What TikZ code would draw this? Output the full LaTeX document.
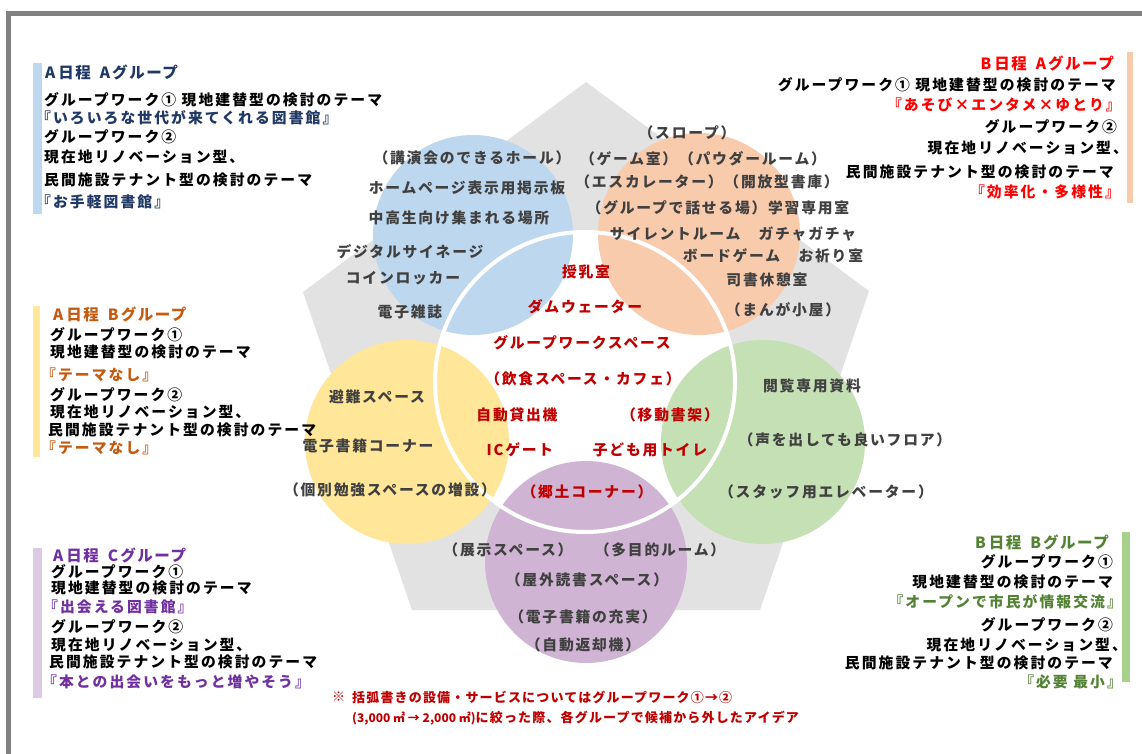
\documentclass[tikz,border=0pt]{standalone}
\usepackage{fontspec}
\setmainfont{Noto Sans CJK JP}
\newfontfamily\jpA{Noto Sans CJK JP}[LetterSpace=14]
\newfontfamily\jpB{Noto Sans CJK JP}
\newfontfamily\jpT{Noto Sans CJK JP}[LetterSpace=10]
\newfontfamily\jpC{Noto Sans CJK JP}[LetterSpace=12]
\newfontfamily\jpN{Noto Sans CJK JP}[LetterSpace=9]
\definecolor{cframe}{HTML}{808080}
\definecolor{cgray}{HTML}{E2E2E2}
\definecolor{cblue}{HTML}{BDD7EE}
\definecolor{corange}{HTML}{F8CBAD}
\definecolor{cyellow}{HTML}{FFE699}
\definecolor{cgreen}{HTML}{C5E0B4}
\definecolor{cpurple}{HTML}{D0B4D4}
\definecolor{barpurple}{HTML}{DCCAE2}
\definecolor{bargreen}{HTML}{A9D18E}
\definecolor{cdark}{HTML}{404040}
\definecolor{cred}{HTML}{C00000}
\definecolor{tnavy}{HTML}{203864}
\definecolor{torange}{HTML}{C55A11}
\definecolor{tpurple}{HTML}{7030A0}
\definecolor{tred}{HTML}{FF0000}
\definecolor{tgreen}{HTML}{548235}
\newcommand{\grtitle}[2]{#1\hspace{3pt}日程\hspace{9pt}#2\hspace{2pt}グループ}
\tikzset{
  bl/.style={anchor=west, inner sep=0pt, font=\jpA\bfseries\fontsize{14.8}{16}\selectfont, text=black},
  br/.style={bl, anchor=east},
  tl/.style={anchor=west, inner sep=0pt, font=\jpT\bfseries\fontsize{15.5}{17}\selectfont},
  tr/.style={tl, anchor=east},
  ct/.style={anchor=center, inner sep=0pt, font=\jpC\bfseries\fontsize{14.8}{16}\selectfont, text=cdark},
  cr/.style={ct, text=cred},
  nt/.style={anchor=west, inner sep=0pt, font=\jpN\bfseries\fontsize{13}{15}\selectfont, text=cred}
}
\begin{document}
\begin{tikzpicture}[x=1pt,y=-1pt]
\useasboundingbox (0,0) rectangle (1142,754);
\fill[white] (0,0) rectangle (1142,754);
% frame
\fill[cframe] (6,11) rectangle (1142,16);
\fill[cframe] (6,11) rectangle (11,754);
% pentagon
\fill[cgray] (586,82) -- (869,291) -- (760,610) -- (412,610) -- (303,292) -- cycle;
% centre disk and circles
\coordinate (cc) at (585,382);
\fill[white] (cc) circle (150);
\fill[cblue] (473,235) circle (100);
\fill[corange] (699,234) circle (101);
\fill[cyellow] (407,442) circle (102);
\fill[cgreen] (763,442) circle (102);
\fill[cpurple] (586,562) circle (101);
\draw[white, line width=4pt] (cc) circle (150);
% side bars
\fill[cblue] (33,63) rectangle (42,214);
\fill[cyellow] (33,306) rectangle (40,457);
\fill[barpurple] (33,548) rectangle (42,698);
\fill[corange] (1127,52) rectangle (1133,203);
\fill[bargreen] (1122,532) rectangle (1130,682);

% Left A
\node[tl, text=tnavy] (la0) at (45,72) {\grtitle{A}{A}};
\node[bl] (la1) at (44,100) {グループワーク① 現地建替型の検討のテーマ};
\node[bl, text=tnavy] (la2) at (36,118) {『いろいろな世代が来てくれる図書館』};
\node[bl] (la3) at (44,137) {グループワーク②};
\node[bl] (la4) at (44,157) {現在地リノベーション型、};
\node[bl] (la5) at (44,180) {民間施設テナント型の検討のテーマ};
\node[bl, text=tnavy] (la6) at (36,202) {『お手軽図書館』};

% Left B
\node[tl, text=torange] (lb0) at (53,314) {\grtitle{A}{B}};
\node[bl] (lb1) at (50,335) {グループワーク①};
\node[bl] (lb2) at (50,352) {現地建替型の検討のテーマ};
\node[bl, text=torange] (lb3) at (41,375) {『テーマなし』};
\node[bl] (lb4) at (50,395) {グループワーク②};
\node[bl] (lb5) at (50,412) {現在地リノベーション型、};
\node[bl] (lb6) at (48,430) {民間施設テナント型の検討のテーマ};
\node[bl, text=torange] (lb7) at (41,448) {『テーマなし』};

% Left C
\node[tl, text=tpurple] (lc0) at (53,555) {\grtitle{A}{C}};
\node[bl] (lc1) at (51,572) {グループワーク①};
\node[bl] (lc2) at (51,588) {現地建替型の検討のテーマ};
\node[bl, text=tpurple] (lc3) at (43,607) {『出会える図書館』};
\node[bl] (lc4) at (51,627) {グループワーク②};
\node[bl] (lc5) at (51,645) {現在地リノベーション型、};
\node[bl] (lc6) at (49,662) {民間施設テナント型の検討のテーマ};
\node[bl, text=tpurple] (lc7) at (42,682) {『本との出会いをもっと増やそう』};

% Right A
\node[tr, text=tred] (ra0) at (1114,63) {\grtitle{B}{A}};
\node[br] (ra1) at (1116,85) {グループワーク① 現地建替型の検討のテーマ};
\node[br, text=tred] (ra2) at (1121,105) {『あそび×エンタメ×ゆとり』};
\node[br] (ra3) at (1117,127) {グループワーク②};
\node[br] (ra4) at (1128,148) {現在地リノベーション型、};
\node[br] (ra5) at (1114,172) {民間施設テナント型の検討のテーマ};
\node[br, text=tred] (ra6) at (1120,192) {『効率化・多様性』};

% Right B
\node[tr, text=tgreen] (rb0) at (1109,542) {\grtitle{B}{B}};
\node[br] (rb1) at (1113,562) {グループワーク①};
\node[br] (rb2) at (1113,582) {現地建替型の検討のテーマ};
\node[br, text=tgreen] (rb3) at (1122,602) {『オープンで市民が情報交流』};
\node[br] (rb4) at (1113,625) {グループワーク②};
\node[br] (rb5) at (1127,645) {現在地リノベーション型、};
\node[br] (rb6) at (1113,663) {民間施設テナント型の検討のテーマ};
\node[br, text=tgreen] (rb7) at (1122,682) {『必要 最小』};

% Blue circle
\node[ct] (b1) at (472,158) {（講演会のできるホール）};
\node[ct] (b2) at (467,188) {ホームページ表示用掲示板};
\node[ct] (b3) at (459,218) {中高生向け集まれる場所};
\node[ct] (b4) at (410,252) {デジタルサイネージ};
\node[ct] (b5) at (403,278) {コインロッカー};
\node[ct] (b6) at (410,312) {電子雑誌};

% Orange circle
\node[ct] (o1) at (687,133) {（スロープ）};
\node[ct] (o2) at (703,159) {（ゲーム室）（パウダールーム）};
\node[ct] (o3) at (707,182) {（エスカレーター）（開放型書庫）};
\node[ct] (o4) at (718,208) {（グループで話せる場）学習専用室};
\node[ct] (o5) at (733,234) {サイレントルーム　ガチャガチャ};
\node[ct] (o6) at (773,256) {ボードゲーム　お祈り室};
\node[ct] (o7) at (767,280) {司書休憩室};
\node[ct] (o8) at (783,310) {（まんが小屋）};

% Yellow circle
\node[ct] (y1) at (377,397) {避難スペース};
\node[ct] (y2) at (368,446) {電子書籍コーナー};
\node[ct] (y3) at (390,490) {（個別勉強スペースの増設）};

% Green circle
\node[ct] (g1) at (812,386) {閲覧専用資料};
\node[ct] (g2) at (845,440) {（声を出しても良いフロア）};
\node[ct] (g3) at (826,492) {（スタッフ用エレベーター）};

% Purple circle
\node[ct] (p1) at (508,550) {（展示スペース）};
\node[ct] (p2) at (660,550) {（多目的ルーム）};
\node[ct] (p3) at (587,580) {（屋外読書スペース）};
\node[ct] (p4) at (583,617) {（電子書籍の充実）};
\node[ct] (p5) at (583,645) {（自動返却機）};

% Centre
\node[cr] (m1) at (586,272) {授乳室};
\node[cr] (m2) at (585,307) {ダムウェーター};
\node[cr] (m3) at (582,343) {グループワークスペース};
\node[cr] (m4) at (583,379) {（飲食スペース・カフェ）};
\node[cr] (m5) at (517,415) {自動貸出機};
\node[cr] (m6) at (670,415) {（移動書架）};
\node[cr] (m7) at (520,450) {ICゲート};
\node[cr] (m8) at (650,450) {子ども用トイレ};
\node[cr] (m9) at (587,492) {（郷土コーナー）};

% Note
\node[nt] (n0) at (332,697) {※};
\node[nt] (n1) at (352,697) {括弧書きの設備・サービスについてはグループワーク①→②};
\node[nt] (n2) at (352,718) {{\jpB\fontsize{12}{14}\selectfont (3,000 ㎡ → 2,000 ㎡)}に絞った際、各グループで候補から外したアイデア};
\end{tikzpicture}
\end{document}
